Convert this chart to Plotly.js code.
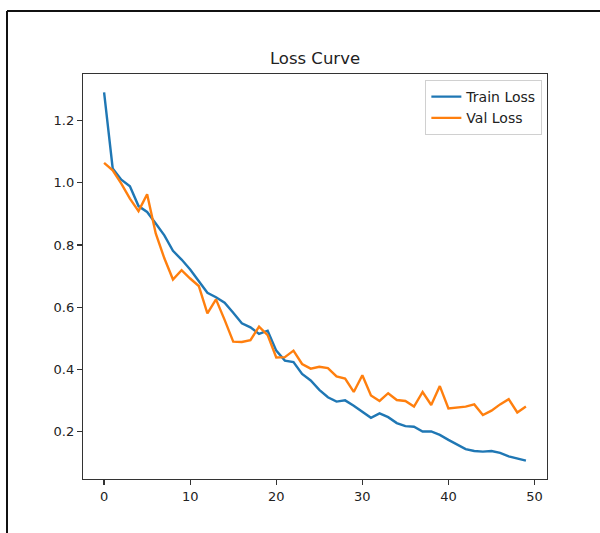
<!DOCTYPE html>
<html>
<head>
<meta charset="utf-8">
<script src="https://cdn.plot.ly/plotly-3.0.1.min.js"></script>
<style>
  html, body { margin: 0; padding: 0; background: #fff; }
  #chart { width: 600px; height: 533px; }
</style>
</head>
<body>
<div id="chart"></div>
<script>
// Data
const epochs = [];
for (let i = 0; i < 50; i++) epochs.push(i);

const trainLoss = [1.291, 1.046, 1.010, 0.989, 0.925, 0.906, 0.869, 0.831, 0.781, 0.753,
                   0.721, 0.685, 0.646, 0.632, 0.614, 0.582, 0.548, 0.535, 0.514, 0.524,
                   0.460, 0.428, 0.423, 0.385, 0.364, 0.334, 0.310, 0.296, 0.300, 0.283,
                   0.263, 0.244, 0.258, 0.246, 0.227, 0.217, 0.215, 0.200, 0.200, 0.189,
                   0.173, 0.157, 0.143, 0.137, 0.135, 0.137, 0.131, 0.120, 0.113, 0.106];

const valLoss = [1.064, 1.040, 0.997, 0.949, 0.909, 0.963, 0.837, 0.757, 0.689, 0.719,
                 0.692, 0.668, 0.580, 0.625, 0.559, 0.489, 0.488, 0.494, 0.537, 0.510,
                 0.438, 0.439, 0.460, 0.417, 0.402, 0.408, 0.404, 0.377, 0.370, 0.327,
                 0.381, 0.316, 0.298, 0.323, 0.301, 0.298, 0.280, 0.327, 0.285, 0.346,
                 0.274, 0.276, 0.280, 0.287, 0.253, 0.267, 0.287, 0.304, 0.261, 0.280];

const xTicks = [0, 10, 20, 30, 40, 50];
const yTicks = [0.2, 0.4, 0.6, 0.8, 1.0, 1.2];
const yTickLabels = ['0.2', '0.4', '0.6', '0.8', '1.0', '1.2'];

const FONT = 'DejaVu Sans, Liberation Sans, sans-serif';

const traces = [
  { x: epochs, y: trainLoss, mode: 'lines', name: 'Train Loss',
    line: { color: '#1f77b4', width: 2.4 } },
  { x: epochs, y: valLoss, mode: 'lines', name: 'Val Loss',
    line: { color: '#ff7f0e', width: 2.4 } }
];

const axisCommon = {
  showgrid: false, zeroline: false, showline: true, mirror: true,
  linecolor: '#333', linewidth: 1.2, ticks: 'outside', ticklen: 5,
  tickcolor: '#333', tickwidth: 1.2,
  tickfont: { family: FONT, size: 13, color: '#222' }
};

const layout = {
  width: 600, height: 533,
  margin: { l: 83, r: 53, t: 74, b: 54 },
  paper_bgcolor: '#fff', plot_bgcolor: '#fff',
  title: { text: 'Loss Curve', x: 0.525, xanchor: 'center', y: 0.89, yanchor: 'middle',
           font: { family: FONT, size: 16.5, color: '#222' } },
  xaxis: Object.assign({}, axisCommon, {
    range: [-2.45, 51.45], tickvals: xTicks, ticktext: xTicks.map(String)
  }),
  yaxis: Object.assign({}, axisCommon, {
    range: [0.047, 1.350], tickvals: yTicks, ticktext: yTickLabels
  }),
  showlegend: true,
  legend: {
    x: 0.99, y: 0.985, xanchor: 'right', yanchor: 'top',
    bgcolor: 'rgba(255,255,255,0.8)', bordercolor: '#d0d0d0', borderwidth: 1,
    font: { family: FONT, size: 14, color: '#222' },
    tracegroupgap: 0
  },
  shapes: [
    { type: 'line', xref: 'paper', yref: 'paper',
      x0: (7 - 83) / 464, x1: (600 - 83) / 464,
      y0: (479 - 11) / 405, y1: (479 - 11) / 405,
      line: { color: '#111', width: 2 } },
    { type: 'line', xref: 'paper', yref: 'paper',
      x0: (7 - 83) / 464, x1: (7 - 83) / 464,
      y0: (479 - 11) / 405, y1: (479 - 533) / 405,
      line: { color: '#111', width: 2 } }
  ]
};

Plotly.newPlot('chart', traces, layout, { displayModeBar: false, staticPlot: true });
</script>
</body>
</html>
